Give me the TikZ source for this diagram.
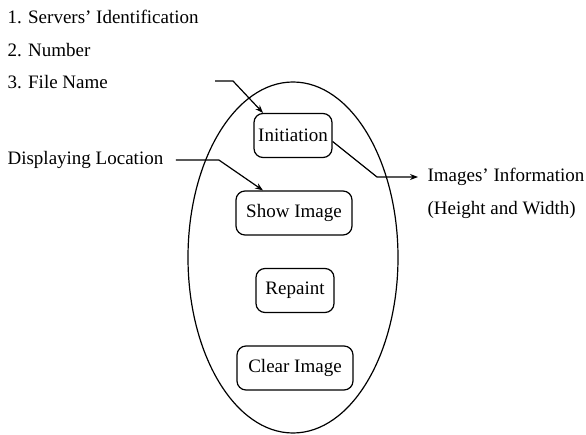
\documentclass[tikz,border=0pt]{standalone}
\usepackage{fontspec}
\setmainfont{Liberation Serif}
\usetikzlibrary{positioning}
\usetikzlibrary{shapes.geometric}
\usetikzlibrary{arrows.meta}

\begin{document}
\begin{tikzpicture}[x=1pt, y=-1pt, line width=1.2pt, >={Stealth[length=8pt,width=6pt]},
    every node/.style={font=\fontsize{19}{22}\selectfont},
    func/.style={draw, rounded corners=9pt, minimum height=44pt, inner xsep=3pt},
    note/.style={anchor=west, inner sep=2pt}]

                \useasboundingbox (0,0) rectangle (586,435);

                % Ellipse and functions
                \node at (293,257.5) (server) [draw, ellipse, minimum width=210pt, minimum height=351pt] {};
                \node at (293,135.5) (init) [func, minimum width=78pt] {Initiation};
                \node at (294,213) (show) [func, minimum width=116pt] {Show Image};
                \node at (295,290.5) (repaint) [func, minimum width=78pt] {Repaint};
                \node at (295,368) (clear) [func, minimum width=116pt] {Clear Image};

                % Texts
                \node at (5,17) (servers) [note] {1. Servers' Identification};
                \node at (5,50) (number) [note] {2. Number};
                \node at (5,82) (fname) [note] {3. File Name};
                \node at (5,160) (dloc) [note] {Displaying Location};
                \node at (425,177) (info) [note] {Images' Information};
                \node at (425,210) (hw) [note] {(Height and Width)};
                \coordinate (inputs) at (215,81);

                % Arrows
                \draw[->] (inputs) -- ++(18,0) -- ([xshift=-30pt]init.north);
                \draw[->] ([xshift=10pt]dloc.east) -- ++(43,0) -- ([xshift=-31pt]show.north);
                \draw[->, shorten >=7pt] ([yshift=-6pt]init.east) -- ([xshift=-48pt]info.west) -- (info.west);

\end{tikzpicture}
\end{document}
